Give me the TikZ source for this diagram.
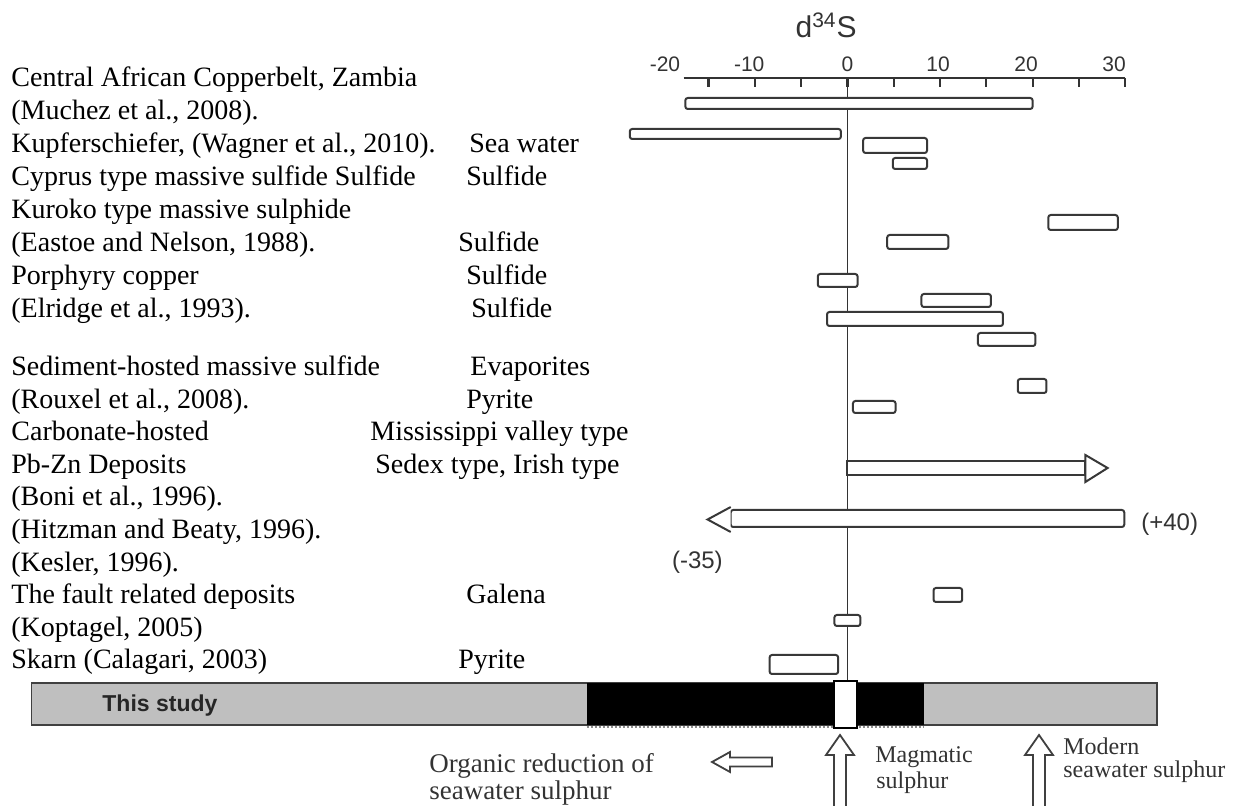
\documentclass[tikz,border=0pt]{standalone}
\usepackage{fontspec}
\setmainfont{Liberation Serif}
\setsansfont{Liberation Sans}
\begin{document}
\begin{tikzpicture}[x=0.5pt,y=-0.5pt,
  bar/.style={draw=black!78,line width=1pt,fill=white,rounded corners=1.2pt},
  axis/.style={draw=black!80,line width=1.1pt},
  src/.style={anchor=base west,inner sep=0pt,font=\fontsize{14}{16}\selectfont},
  axlab/.style={anchor=base,inner sep=0pt,text=black!80,
                font=\sffamily\fontsize{10.5}{12}\selectfont},
  note/.style={anchor=base west,inner sep=0pt,text=black!80,
               font=\fontsize{12}{14}\selectfont},
  hollow/.style={draw=black!75,line width=0.9pt,fill=white}]
  \useasboundingbox (0,0) rectangle (1233,806);

  % --- Parameters ---
  \def\xzero{847.4}
  \def\unit{4.63pt}
  \def\ytop{78}
  \def\ybar{683}

  % --- Sources (left column) ---
  \foreach \yb/\txt [count=\i] in {
      87/{Central African Copperbelt, Zambia},
      120/{(Muchez et al., 2008).},
      153/{Kupferschiefer, (Wagner et al., 2010).},
      186/{Cyprus type massive sulfide Sulfide},
      219/{Kuroko type massive sulphide},
      252/{(Eastoe and Nelson, 1988).},
      285/{Porphyry copper},
      318/{(Elridge et al., 1993).},
      376/{Sediment-hosted massive sulfide},
      408.6/{(Rouxel et al., 2008).},
      441/{Carbonate-hosted},
      473.7/{Pb-Zn Deposits},
      506/{(Boni et al., 1996).},
      539/{(Hitzman and Beaty, 1996).},
      571.4/{(Kesler, 1996).},
      604/{The fault related deposits},
      636.5/{(Koptagel, 2005)},
      669/{Skarn (Calagari, 2003)}}
    \node[src] (src\i) at (11,\yb) {\txt};

  % --- Sulphur type (middle column) ---
  \foreach \xb/\yb/\txt [count=\i] in {
      469/153/{Sea water}, 466/186/Sulfide, 458/252/Sulfide,
      466/285/Sulfide, 471/318/Sulfide, 470/376/Evaporites,
      466/408.6/Pyrite, 370/441/{Mississippi valley type},
      375/473.7/{Sedex type, Irish type}, 466/604/Galena, 458/669/Pyrite}
    \node[src] (kind\i) at (\xb,\yb) {\txt};

  % --- Data, x in per mil ---
  \begin{scope}[shift={(\xzero,0)},x=\unit]
    % axis
    \node[axlab,font=\sffamily\fontsize{15}{17}\selectfont] (title)
         at (-2.3,38) {d\textsuperscript{34}S};
    \draw[axis] (-17.7,\ytop) -- (30,\ytop);
    \foreach \v in {-15,-10,...,30}
      \draw[axis] (\v,\ytop) -- (\v,\ytop+9);
    \foreach \v/\p [count=\k] in {-20/-19.7,-10/-10.6,0/0,10/9.8,20/19.3,30/28.8}
      \node[axlab] (tick\k) at (\p,72) {\v};

    % zero line
    \draw[black!80,line width=0.8pt] (0,\ytop) -- (0,\ybar);

    % ranges
    \foreach \a/\b/\ya/\yb in {
        -17.5/20.0/98/109, -23.5/-0.7/129/139, 1.7/8.6/138/153,
        4.9/8.6/158/169, 21.7/29.2/215/230, 4.3/10.9/235/249,
        -3.2/1.1/274/287, 8.0/15.5/294/307, -2.2/16.8/312/326,
        14.1/20.3/333/346, 18.4/21.5/379/393, 0.6/5.2/401/413,
        9.3/12.4/588/602, -1.4/1.4/615/626, -8.4/-1.0/655/674}
      \draw[bar] (\a,\ya) rectangle (\b,\yb);

    % open ended ranges
    \draw[bar,rounded corners=0pt] (0,461) rectangle (25.7,475);
    \draw[bar,rounded corners=0pt] (25.7,455) -- (28.1,468) -- (25.7,482) -- cycle;
    \draw[bar] (-12.6,510) rectangle (29.9,527);
    \draw[bar,rounded corners=0pt] (-12.6,507) -- (-15.1,519.5) -- (-12.6,532);
    \node[axlab,anchor=center,font=\sffamily\fontsize{12}{14}\selectfont]
         (max) at (34.8,524) {(+40)};
    \node[axlab,anchor=center,font=\sffamily\fontsize{12}{14}\selectfont]
         (min) at (-16.2,562) {(-35)};
  \end{scope}

  % --- This study ---
  \draw[draw=black!75,line width=0.9pt,fill=gray!50] (31.5,\ybar) rectangle (1157,725);
  \fill[black] (586.6,\ybar) rectangle (924,725);
  \draw[black!45,densely dotted,line width=1pt] (586.6,727.5) -- (924,727.5);
  \draw[black,line width=0.8pt,fill=white] (834,681) rectangle (857,728);
  \node[anchor=base west,inner sep=0pt,text=black!85,
        font=\sffamily\bfseries\fontsize{11.5}{13}\selectfont] (study)
       at (102,712) {This study};

  % --- Sources of sulphur ---
  \draw[hollow] (772,757.5) -- (730,757.5) -- (730,752) -- (712,762)
       -- (730,772) -- (730,766.5) -- (772,766.5) -- cycle;
  \foreach \cx in {840,1039}
    \draw[hollow] (\cx-6,812) -- (\cx-6,755) -- (\cx-14,755) -- (\cx,735)
         -- (\cx+14,755) -- (\cx+6,755) -- (\cx+6,812);
  \node[note,font=\fontsize{13.5}{15}\selectfont] (org1) at (429,773) {Organic reduction of};
  \node[note,font=\fontsize{13.5}{15}\selectfont] (org2) at (429,800) {seawater sulphur};
  \node[note] (mag1) at (875,763) {Magmatic};
  \node[note] (mag2) at (876,789) {sulphur};
  \node[note] (mod1) at (1063,755) {Modern};
  \node[note] (mod2) at (1063,778) {seawater sulphur};
\end{tikzpicture}
\end{document}
